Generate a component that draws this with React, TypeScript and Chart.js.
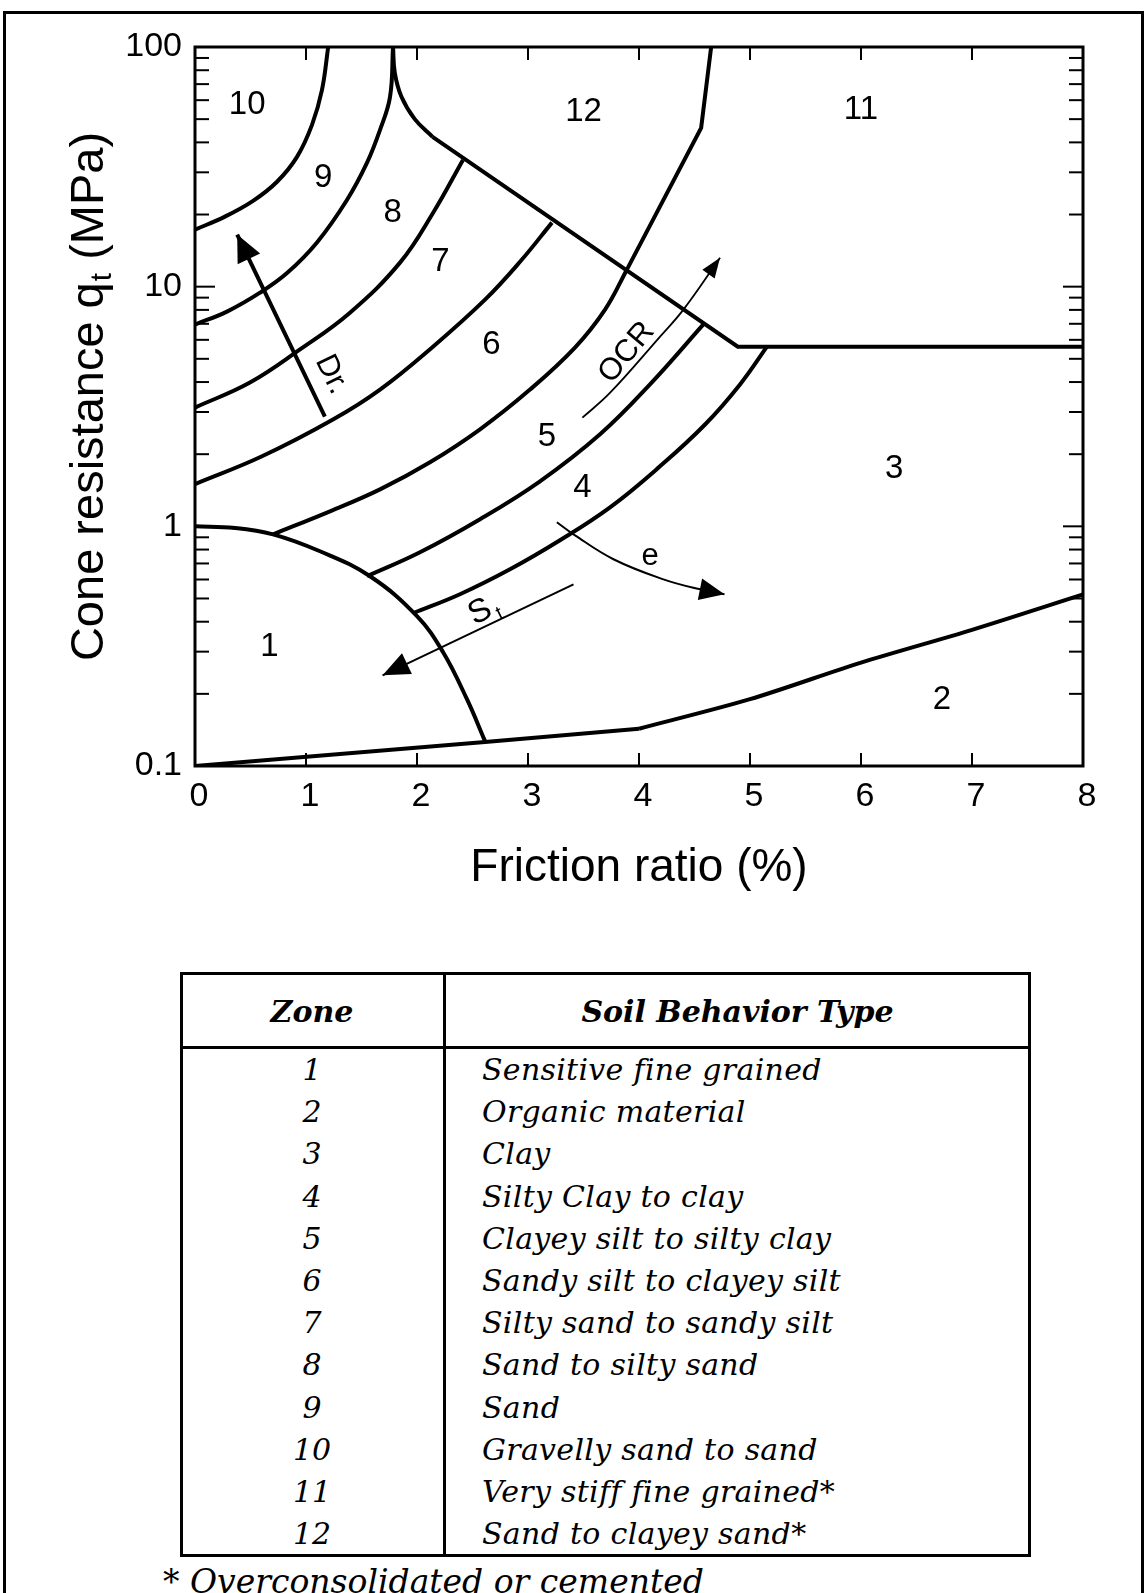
import React, { useEffect, useRef } from 'react';
import { Chart, registerables } from 'chart.js';

Chart.register(...registerables);

// ---------- axis data ----------
const xTickValues = [0, 1, 2, 3, 4, 5, 6, 7, 8];
const yTickValues = [0.1, 1, 10, 100];
const yMinorTickValues = [
  0.2, 0.3, 0.4, 0.5, 0.6, 0.7, 0.8, 0.9,
  2, 3, 4, 5, 6, 7, 8, 9,
  20, 30, 40, 50, 60, 70, 80, 90,
];
const xTitle = 'Friction ratio (%)';
const yTitleMain = 'Cone resistance q';
const yTitleSub = 't';
const yTitleTail = ' (MPa)';

// ---------- zone boundaries  [friction ratio %, qt MPa] ----------
const zone10to9 = [[1.2, 100], [1.144, 66.2], [1.054, 47.3], [0.919, 34.8], [0.739, 27.4], [0.523, 22.8], [0.27, 19.6], [0, 17.3]];
const zone9to8 = [[1.784, 100], [1.757, 61.9], [1.667, 45.1], [1.55, 32.9], [1.369, 23.0], [1.099, 15.3], [0.829, 11.4], [0.586, 9.44], [0.288, 7.87], [0, 6.95]];
const zone12Cusp = [[1.784, 100], [1.8, 78], [1.86, 62], [1.98, 50], [2.14, 42.2]];
const zone12Lower = [[2.14, 42.2], [4.89, 5.62], [8, 5.62]];
const zone8to7 = [[2.414, 33.8], [2.144, 20.3], [1.847, 12.6], [1.396, 7.79], [0.946, 5.47], [0.495, 3.98], [0, 3.13]];
const zone7to6 = [[3.216, 18.5], [2.928, 12.7], [2.613, 8.83], [2.144, 5.62], [1.667, 3.72], [1.243, 2.79], [0.604, 1.96], [0, 1.5]];
const zone6to5 = [[0.703, 0.926], [1.216, 1.155], [1.667, 1.426], [2.117, 1.85], [2.568, 2.54], [3.018, 3.72], [3.423, 5.57], [3.694, 8.02], [3.892, 11.8]];
const zone12to11 = [[3.892, 11.8], [4.56, 46], [4.65, 100]];
const zone5to4 = [[1.55, 0.619], [2.027, 0.779], [2.568, 1.07], [3.108, 1.54], [3.649, 2.42], [4.099, 3.91], [4.586, 7.01]];
const zone4to3 = [[1.964, 0.434], [2.387, 0.521], [2.838, 0.662], [3.288, 0.875], [3.739, 1.2], [4.189, 1.78], [4.595, 2.66], [4.91, 3.91], [5.153, 5.62]];
const zone1Edge = [[0, 1.0], [0.36, 0.985], [0.703, 0.926], [1.126, 0.787], [1.577, 0.619], [2.0, 0.422], [2.234, 0.299], [2.45, 0.19], [2.613, 0.127]];
const zone2EdgeLeft = [[0, 0.1], [2.613, 0.126], [4.0, 0.143]];
const zone2EdgeRight = [[4.0, 0.143], [5.0, 0.19], [6.0, 0.27], [7.0, 0.37], [8.0, 0.52]];

// ---------- trend arrows ----------
const drArrow = [[1.17, 2.87], [0.38, 16.5]];
const ocrArrow = [[3.49, 2.84], [3.74, 3.61], [4.19, 6.19], [4.4, 8.02], [4.73, 13.2]];
const eArrow = [[3.26, 1.04], [3.41, 0.926], [3.77, 0.729], [4.22, 0.601], [4.55, 0.546], [4.77, 0.521]];
const stArrow = [[3.41, 0.573], [1.69, 0.239]];

// ---------- zone number labels ----------
const zoneLabelTexts = ['1', '2', '3', '4', '5', '6', '7', '8', '9', '10', '11', '12'];
const zoneLabelRf = [0.67, 6.73, 6.3, 3.49, 3.17, 2.67, 2.21, 1.78, 1.155, 0.47, 6.0, 3.5];
const zoneLabelQt = [0.313, 0.188, 1.73, 1.44, 2.35, 5.73, 12.7, 20.3, 28.5, 57.3, 54.7, 53.6];

// ---------- arrow labels ----------
const arrowLabelTexts = ['Dr.', 'OCR', 'e'];
const arrowLabelRf = [1.23, 3.89, 4.1];
const arrowLabelQt = [4.3, 5.31, 0.75];
const arrowLabelAngles = [64, -50, 0];
const stLabelRf = 2.57;
const stLabelQt = 0.438;

// ---------- table ----------
const tableHeaders = ['Zone', 'Soil Behavior Type'];
const tableZones = ['1', '2', '3', '4', '5', '6', '7', '8', '9', '10', '11', '12'];
const tableTypes = [
  'Sensitive fine grained',
  'Organic material',
  'Clay',
  'Silty Clay to clay',
  'Clayey silt to silty clay',
  'Sandy silt to clayey silt',
  'Silty sand to sandy silt',
  'Sand to silty sand',
  'Sand',
  'Gravelly sand to sand',
  'Very stiff fine grained*',
  'Sand to clayey sand*',
];
const footnote = '* Overconsolidated or cemented';

const SANS = '"Liberation Sans", Arial, Helvetica, sans-serif';
const SERIF = '"DejaVu Serif", serif';

const toXY = (pts: number[][]) => pts.map(([x, y]) => ({ x, y }));

const boundaryDefs: { pts: number[][]; tension: number }[] = [
  { pts: zone10to9, tension: 0.4 },
  { pts: zone9to8, tension: 0.4 },
  { pts: zone12Cusp, tension: 0.4 },
  { pts: zone12Lower, tension: 0 },
  { pts: zone8to7, tension: 0.4 },
  { pts: zone7to6, tension: 0.4 },
  { pts: zone6to5, tension: 0.4 },
  { pts: zone12to11, tension: 0 },
  { pts: zone5to4, tension: 0.4 },
  { pts: zone4to3, tension: 0.4 },
  { pts: zone1Edge, tension: 0.4 },
  { pts: zone2EdgeLeft, tension: 0 },
  { pts: zone2EdgeRight, tension: 0.3 },
];

const arrowDefs: { pts: number[][]; width: number; head: number[] }[] = [
  { pts: drArrow, width: 4, head: [27, 25] },
  { pts: ocrArrow, width: 1.8, head: [20, 15] },
  { pts: eArrow, width: 2, head: [25, 22] },
  { pts: stArrow, width: 2, head: [27, 23] },
];

const overlayPlugin = {
  id: 'overlay',
  afterDatasetsDraw(chart: any) {
    const ctx: CanvasRenderingContext2D = chart.ctx;
    const xs = chart.scales.x;
    const ys = chart.scales.y;
    const px = (v: number) => xs.getPixelForValue(v);
    const py = (v: number) => ys.getPixelForValue(v);
    const { left, right, top, bottom } = chart.chartArea;
    ctx.save();
    ctx.strokeStyle = '#000';
    ctx.fillStyle = '#000';
    ctx.lineCap = 'butt';

    // frame
    ctx.lineWidth = 3;
    ctx.strokeRect(left, top, right - left, bottom - top);

    const seg = (x1: number, y1: number, x2: number, y2: number) => {
      ctx.beginPath();
      ctx.moveTo(x1, y1);
      ctx.lineTo(x2, y2);
      ctx.stroke();
    };

    // inward ticks
    ctx.lineWidth = 2;
    xTickValues.forEach((v) => {
      if (v === xTickValues[0] || v === xTickValues[xTickValues.length - 1]) return;
      const x = px(v);
      seg(x, bottom, x, bottom - 13);
      seg(x, top, x, top + 13);
    });
    yMinorTickValues.forEach((v) => {
      const y = py(v);
      seg(left, y, left + 14, y);
      seg(right, y, right - 14, y);
    });
    yTickValues.forEach((v, i) => {
      if (i === 0 || i === yTickValues.length - 1) return;
      const y = py(v);
      seg(left, y, left + 20, y);
      seg(right, y, right - 20, y);
    });

    // arrow heads
    arrowDefs.forEach((a) => {
      const n = a.pts.length;
      const x1 = px(a.pts[n - 2][0]);
      const y1 = py(a.pts[n - 2][1]);
      const x2 = px(a.pts[n - 1][0]);
      const y2 = py(a.pts[n - 1][1]);
      const ang = Math.atan2(y2 - y1, x2 - x1);
      const [len, wid] = a.head;
      ctx.save();
      ctx.translate(x2, y2);
      ctx.rotate(ang);
      ctx.beginPath();
      ctx.moveTo(0, 0);
      ctx.lineTo(-len, -wid / 2);
      ctx.lineTo(-len, wid / 2);
      ctx.closePath();
      ctx.fill();
      ctx.restore();
    });

    // zone labels
    ctx.font = `33px ${SANS}`;
    ctx.textAlign = 'center';
    ctx.textBaseline = 'middle';
    zoneLabelTexts.forEach((t, i) => {
      ctx.fillText(t, px(zoneLabelRf[i]), py(zoneLabelQt[i]));
    });

    // arrow labels
    ctx.font = `31px ${SANS}`;
    arrowLabelTexts.forEach((t, i) => {
      ctx.save();
      ctx.translate(px(arrowLabelRf[i]), py(arrowLabelQt[i]));
      ctx.rotate((arrowLabelAngles[i] * Math.PI) / 180);
      ctx.fillText(t, 0, 0);
      ctx.restore();
    });

    // S_t label
    ctx.save();
    ctx.translate(px(stLabelRf), py(stLabelQt));
    ctx.rotate((-26 * Math.PI) / 180);
    ctx.font = `33px ${SANS}`;
    ctx.fillText('S', 0, 0);
    ctx.font = `20px ${SANS}`;
    ctx.fillText('t', 17, 10);
    ctx.restore();

    ctx.restore();
  },
  afterDraw(chart: any) {
    const ctx: CanvasRenderingContext2D = chart.ctx;
    const { top, bottom } = chart.chartArea;
    ctx.save();
    ctx.fillStyle = '#000';
    ctx.translate(90, (top + bottom) / 2 - 10);
    ctx.rotate(-Math.PI / 2);
    ctx.textBaseline = 'middle';
    ctx.textAlign = 'left';
    const big = `47px ${SANS}`;
    const small = `30px ${SANS}`;
    ctx.font = big;
    const w1 = ctx.measureText(yTitleMain).width;
    const w3 = ctx.measureText(yTitleTail).width;
    ctx.font = small;
    const w2 = ctx.measureText(yTitleSub).width;
    let x = -(w1 + w2 + w3 + 1) / 2;
    ctx.font = big;
    ctx.fillText(yTitleMain, x, 0);
    x += w1;
    ctx.font = small;
    ctx.fillText(yTitleSub, x + 1, 13);
    x += w2 + 1;
    ctx.font = big;
    ctx.fillText(yTitleTail, x, 0);
    ctx.restore();
  },
};

function CptChart() {
  const ref = useRef<HTMLCanvasElement | null>(null);
  useEffect(() => {
    if (!ref.current) return;
    const datasets: any[] = [];
    boundaryDefs.forEach((b) => {
      datasets.push({
        data: toXY(b.pts),
        showLine: true,
        borderColor: '#000',
        borderWidth: 4,
        pointRadius: 0,
        tension: b.tension,
        fill: false,
      });
    });
    arrowDefs.forEach((a) => {
      datasets.push({
        data: toXY(a.pts),
        showLine: true,
        borderColor: '#000',
        borderWidth: a.width,
        pointRadius: 0,
        tension: 0.4,
        fill: false,
      });
    });
    const chart = new Chart(ref.current, {
      type: 'scatter',
      data: { datasets },
      options: {
        animation: false,
        responsive: false,
        maintainAspectRatio: false,
        events: [],
        layout: { padding: { left: 0, top: 47, right: 64, bottom: 0 } },
        plugins: { legend: { display: false }, tooltip: { enabled: false } },
        scales: {
          x: {
            type: 'linear',
            min: 0,
            max: 8,
            afterFit: (s: any) => {
              s.height = 134;
            },
            afterBuildTicks: (s: any) => {
              s.ticks = xTickValues.map((v) => ({ value: v }));
            },
            grid: { display: false, drawTicks: false },
            border: { display: false },
            ticks: {
              autoSkip: false,
              maxRotation: 0,
              padding: 10,
              labelOffset: 4,
              color: '#000',
              font: { family: SANS, size: 34 },
              callback: (v: any) => String(v),
            },
            title: {
              display: true,
              text: xTitle,
              color: '#000',
              font: { family: SANS, size: 46 },
              padding: { top: 0, bottom: 4 },
            },
          },
          y: {
            type: 'logarithmic',
            min: 0.1,
            max: 100,
            afterFit: (s: any) => {
              s.width = 195;
            },
            afterBuildTicks: (s: any) => {
              s.ticks = yTickValues.map((v) => ({ value: v, major: true }));
            },
            grid: { display: false, drawTicks: false },
            border: { display: false },
            ticks: {
              autoSkip: false,
              padding: 13,
              color: '#000',
              font: { family: SANS, size: 34 },
              callback: (v: any) => String(v),
            },
          },
        },
      },
      plugins: [overlayPlugin],
    });
    return () => chart.destroy();
  }, []);
  return (
    <canvas
      ref={ref}
      width={1147}
      height={900}
      style={{ position: 'absolute', left: 0, top: 0, width: 1147, height: 900 }}
    />
  );
}

const TBL_LEFT = 180;
const TBL_RIGHT = 1031;
const TBL_TOP = 972;
const TBL_HEAD_BOTTOM = 1047;
const TBL_BOTTOM = 1557;
const TBL_DIV = 444;
const ROW0 = 1070;
const ROW_STEP = 42.2;

function SoilTable() {
  const zoneCenter = (TBL_LEFT + TBL_DIV) / 2;
  const typeCenter = (TBL_DIV + TBL_RIGHT) / 2;
  const cell: React.CSSProperties = {
    position: 'absolute',
    fontFamily: SERIF,
    fontStyle: 'italic',
    color: '#000',
    whiteSpace: 'nowrap',
    height: 40,
    lineHeight: '40px',
  };
  return (
    <>
      <div
        style={{
          position: 'absolute',
          left: TBL_LEFT,
          top: TBL_TOP,
          width: TBL_RIGHT - TBL_LEFT,
          height: TBL_BOTTOM - TBL_TOP,
          border: '3px solid #000',
          boxSizing: 'border-box',
        }}
      />
      <div style={{ position: 'absolute', left: TBL_DIV - 1, top: TBL_TOP, width: 3, height: TBL_BOTTOM - TBL_TOP, background: '#000' }} />
      <div style={{ position: 'absolute', left: TBL_LEFT, top: TBL_HEAD_BOTTOM - 1, width: TBL_RIGHT - TBL_LEFT, height: 3, background: '#000' }} />
      <div style={{ ...cell, left: zoneCenter - 100, width: 200, textAlign: 'center', top: 1012 - 20, fontWeight: 'bold', fontSize: 30 }}>
        {tableHeaders[0]}
      </div>
      <div style={{ ...cell, left: typeCenter - 250, width: 500, textAlign: 'center', top: 1012 - 20, fontWeight: 'bold', fontSize: 30 }}>
        {tableHeaders[1]}
      </div>
      {tableZones.map((z, i) => (
        <React.Fragment key={z}>
          <div style={{ ...cell, left: zoneCenter - 60, width: 120, textAlign: 'center', top: ROW0 + ROW_STEP * i - 20, fontSize: 30 }}>{z}</div>
          <div style={{ ...cell, left: 482, top: ROW0 + ROW_STEP * i - 20, fontSize: 30, letterSpacing: 0.3 }}>{tableTypes[i]}</div>
        </React.Fragment>
      ))}
      <div style={{ ...cell, left: 163, top: 1582 - 20, fontSize: 33 }}>{footnote}</div>
    </>
  );
}

export default function App() {
  return (
    <div
      style={{
        position: 'absolute',
        left: 0,
        top: 0,
        width: 1147,
        height: 1593,
        overflow: 'hidden',
        background: '#fff',
      }}
    >
      <div
        style={{
          position: 'absolute',
          left: 3,
          top: 11,
          width: 1141,
          height: 1700,
          border: '3px solid #000',
          boxSizing: 'border-box',
        }}
      />
      <CptChart />
      <SoilTable />
    </div>
  );
}
